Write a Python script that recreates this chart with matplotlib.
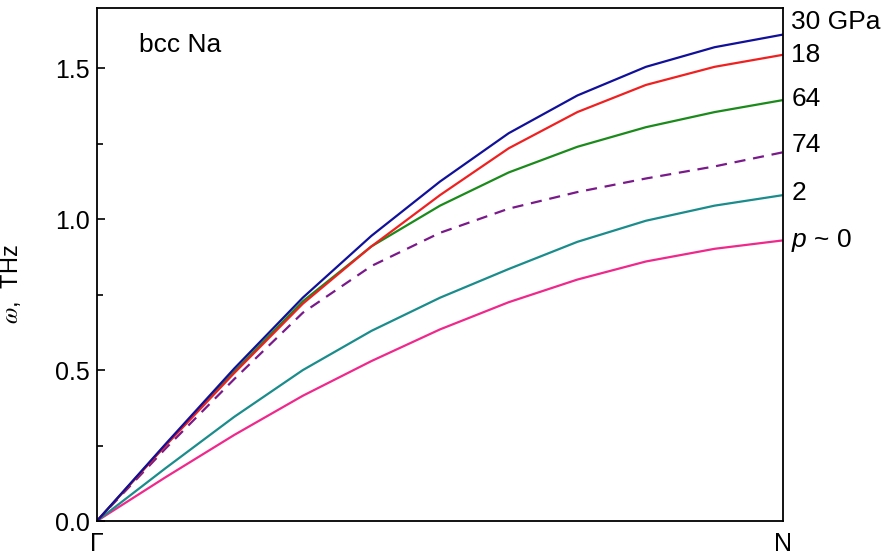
import numpy as np
import matplotlib.pyplot as plt

plt.rcParams['font.family'] = ['Liberation Sans', 'DejaVu Sans']
plt.rcParams['mathtext.fontset'] = 'custom'
plt.rcParams['mathtext.it'] = 'Liberation Sans:italic'
plt.rcParams['mathtext.rm'] = 'Liberation Sans'

# --- data: position along Gamma-N (0..1) and omega (THz) ---
q = [0.0, 0.1, 0.2, 0.3, 0.4, 0.5, 0.6, 0.7, 0.8, 0.9, 1.0]

w_30 = [0.0, 0.255, 0.505, 0.740, 0.945, 1.125, 1.285, 1.410, 1.505, 1.570, 1.612]
w_18 = [0.0, 0.250, 0.490, 0.720, 0.910, 1.080, 1.235, 1.355, 1.445, 1.505, 1.545]
w_64 = [0.0, 0.252, 0.495, 0.728, 0.910, 1.045, 1.155, 1.240, 1.305, 1.355, 1.395]
w_74 = [0.0, 0.240, 0.470, 0.690, 0.845, 0.955, 1.035, 1.090, 1.135, 1.175, 1.222]
w_2 = [0.0, 0.175, 0.345, 0.500, 0.630, 0.740, 0.835, 0.925, 0.995, 1.045, 1.080]
w_0 = [0.0, 0.145, 0.285, 0.415, 0.530, 0.635, 0.725, 0.800, 0.860, 0.902, 0.930]

curve_labels = ['30 GPa', '18', '64', '74', '2', '$p$ ~ 0']
label_y = [1.652, 1.543, 1.40, 1.245, 1.086, 0.93]

fig = plt.figure(figsize=(8.89, 5.58), dpi=100)
ax = fig.add_axes([0.109, 0.0663, 0.772, 0.9194])

ax.plot(q, w_0, color='#f0288c', lw=1.6)
ax.plot(q, w_2, color='#1a8c8c', lw=1.6)
ax.plot(q, w_74, color='#7a1a8a', lw=1.6, dashes=(5, 3.5))
ax.plot(q, w_64, color='#1a8a1a', lw=1.6)
ax.plot(q, w_18, color='#f02020', lw=1.6)
ax.plot(q, w_30, color='#10109a', lw=1.6)

ax.set_xlim(0, 1)
ax.set_ylim(0, 1.70)

ax.set_xticks([0, 1])
ax.set_xticklabels(['Γ', 'N'], fontsize=18)
ax.tick_params(axis='x', length=0, pad=8)

ax.set_yticks([0.0, 0.5, 1.0, 1.5])
ax.set_yticklabels(['0.0', '0.5', '1.0', '1.5'])
ax.set_yticks([0.25, 0.75, 1.25], minor=True)
ax.tick_params(axis='y', which='major', direction='in', length=6, width=1.2, labelsize=18, pad=5)
ax.tick_params(axis='y', which='minor', direction='in', length=4, width=1.2)

for s in ax.spines.values():
    s.set_linewidth(1.3)

ax.set_ylabel(r'$\omega$,  THz', fontsize=17, math_fontfamily='stix')
ax.yaxis.set_label_coords(-0.108, 0.462)

ax.text(0.062, 0.928, 'bcc Na', transform=ax.transAxes, fontsize=19,
        ha='left', va='center')

for lab, y in zip(curve_labels, label_y):
    ax.text(1.012, y, lab, transform=ax.get_yaxis_transform(), fontsize=19,
            ha='left', va='center', clip_on=False)

fig.savefig('out.png', dpi=100)
